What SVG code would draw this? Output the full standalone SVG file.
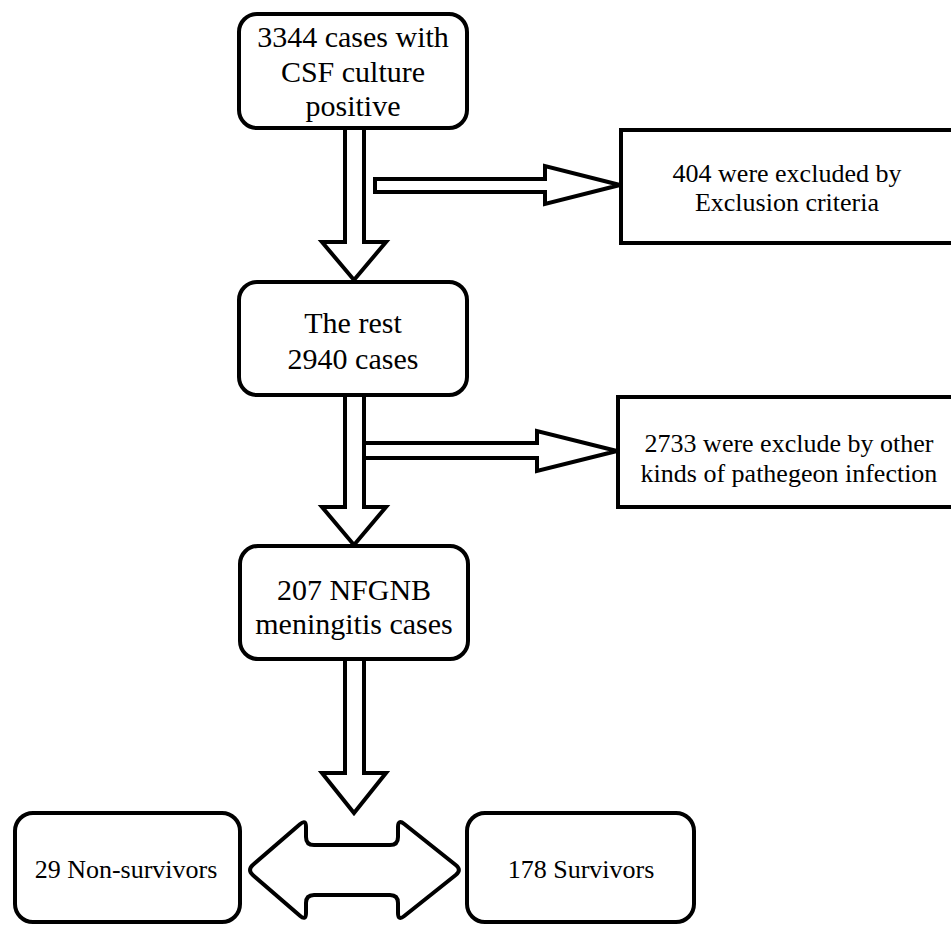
<svg xmlns="http://www.w3.org/2000/svg" width="951" height="925" viewBox="0 0 951 925">
<style>
.box{fill:#fff;stroke:#000;stroke-width:4}
.arr{fill:#fff;stroke:#000;stroke-width:4;stroke-linejoin:miter}
.t30{font-size:30px;fill:#000;text-anchor:middle}
.t26{font-size:26px;fill:#000;text-anchor:middle}
</style>
<rect width="951" height="925" fill="#fff"/>
<g id="connectors">
<polygon class="arr" points="345,128 345,242 322,242 354,280 386,242 364,242 364,128"/>
<polygon class="arr" points="375,179 545,179 545,166 620,185 545,204 545,192 375,192"/>
<polygon class="arr" points="345,395 345,507 322,507 354,545 386,507 364,507 364,395"/>
<polygon class="arr" points="364,443 537,443 537,431 617,451 537,471 537,458 364,458"/>
<polygon class="arr" points="345,659 345,773 322,773 354,813 386,773 364,773 364,659"/>
<path class="arr" d="M253.05,864.8 L299.95,824.2 Q306,819 306,827 L306,837 Q306,845 314,845 L390,845 Q398,845 398,837 L398,827 Q398,819 404.26,823.99 L455.74,865.01 Q462,870 455.74,874.99 L404.26,916.01 Q398,921 398,913 L398,903 Q398,895 390,895 L314,895 Q306,895 306,903 L306,913 Q306,921 299.95,915.8 L253.05,875.2 Q247,870 253.05,864.8 Z"/>
</g>
<g font-family="'Liberation Serif', 'DejaVu Serif', serif">
<g id="n1">
<rect class="box" x="239" y="14" width="228" height="114" rx="18"/>
<text class="t30" x="353" y="47">3344 cases with</text>
<text class="t30" x="353" y="82">CSF culture</text>
<text class="t30" x="353" y="116">positive</text>
</g>
<g id="n2">
<rect class="box" x="621" y="130" width="340" height="113"/>
<text class="t26" x="787" y="182">404 were excluded by</text>
<text class="t26" x="787" y="211">Exclusion criteria</text>
</g>
<g id="n3">
<rect class="box" x="239" y="282" width="228" height="113" rx="18"/>
<text class="t30" x="353" y="333">The rest</text>
<text class="t30" x="353" y="369">2940 cases</text>
</g>
<g id="n4">
<rect class="box" x="618" y="397" width="340" height="110"/>
<text class="t26" x="789" y="452">2733 were exclude by other</text>
<text class="t26" x="789" y="482">kinds of pathegeon infection</text>
</g>
<g id="n5">
<rect class="box" x="240" y="546" width="228" height="113" rx="18"/>
<text class="t30" x="354" y="600">207 NFGNB</text>
<text class="t30" x="354" y="634">meningitis cases</text>
</g>
<g id="n6">
<rect class="box" x="15" y="813" width="225" height="109" rx="18"/>
<text class="t26" x="126" y="878">29 Non-survivors</text>
</g>
<g id="n7">
<rect class="box" x="467" y="813" width="227" height="109" rx="18"/>
<text class="t26" x="581" y="878">178 Survivors</text>
</g>
</g>
</svg>
